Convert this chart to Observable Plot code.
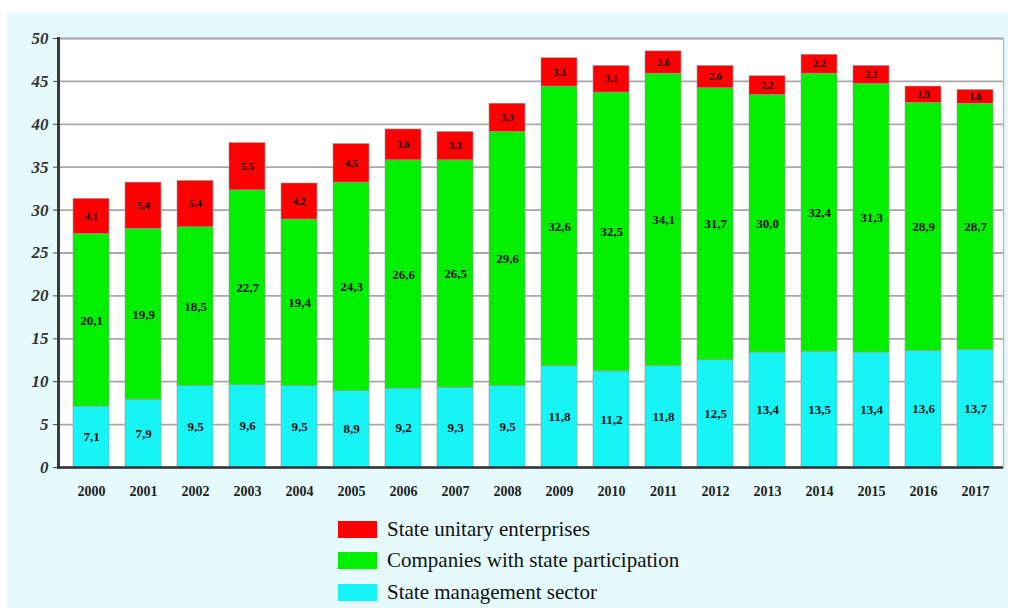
<!DOCTYPE html>
<html>
<head>
<meta charset="utf-8">
<script src="https://cdn.jsdelivr.net/npm/d3@7"></script>
<script src="https://cdn.jsdelivr.net/npm/@observablehq/plot@0.6"></script>
<style>
  html, body { margin: 0; padding: 0; background: #ffffff; }
  #wrap { position: absolute; left: 7px; top: 13px; width: 1001px; height: 595px; background: #e4fafc; }
  #chart svg { display: block; }
  .leg { position: absolute; left: 331px; height: 30px; display: flex; align-items: center;
         font-family: 'Liberation Serif', 'Times New Roman', Tinos, 'DejaVu Serif', serif; font-size: 21px; color: #111; }
  .sw { width: 39px; height: 17px; margin-right: 10px; }
</style>
</head>
<body>
<div id="wrap">
  <div id="chart"></div>
</div>
<script>
const years = ["2000","2001","2002","2003","2004","2005","2006","2007","2008","2009","2010","2011","2012","2013","2014","2015","2016","2017"];
const seriesNames = ["State management sector", "Companies with state participation", "State unitary enterprises"];
const legendOrder = ["State unitary enterprises", "Companies with state participation", "State management sector"];
const seriesColors = ["#16f4f6", "#00f000", "#ff0000"];
const management = [7.1, 7.9, 9.5, 9.6, 9.5, 8.9, 9.2, 9.3, 9.5, 11.8, 11.2, 11.8, 12.5, 13.4, 13.5, 13.4, 13.6, 13.7];
const companies = [20.1, 19.9, 18.5, 22.7, 19.4, 24.3, 26.6, 26.5, 29.6, 32.6, 32.5, 34.1, 31.7, 30.0, 32.4, 31.3, 28.9, 28.7];
const unitary = [4.1, 5.4, 5.4, 5.5, 4.2, 4.5, 3.6, 3.3, 3.3, 3.3, 3.1, 2.6, 2.6, 2.2, 2.2, 2.1, 1.9, 1.6];
const yTicks = [0, 5, 10, 15, 20, 25, 30, 35, 40, 45, 50];

const seriesValues = [management, companies, unitary];
const rows = years.flatMap((yr, i) => seriesNames.map((s, k) => ({year: yr, series: s, value: seriesValues[k][i]})));
const fmt = v => d3.format(".1f")(v).replace(".", ",");
const serif = "'Liberation Serif', 'Times New Roman', Tinos, 'DejaVu Serif', serif";

const chart = Plot.plot({
  width: 1001,
  height: 499,
  marginLeft: 51,
  marginRight: 5,
  marginTop: 25,
  marginBottom: 45,
  style: {background: "transparent", fontFamily: serif},
  x: {type: "band", domain: years, paddingInner: 0.3, paddingOuter: 0, range: [59.5, 993.5], label: null},
  y: {domain: [0, 50], ticks: yTicks, label: null},
  color: {domain: seriesNames, range: seriesColors},
  marks: [
    Plot.frame({fill: "white", stroke: "#bdbdbd", strokeWidth: 1.5}),
    Plot.gridY(yTicks, {stroke: "#a9a6ad", strokeOpacity: 1, strokeWidth: 1.8}),
    Plot.barY(rows, Plot.stackY({x: "year", y: "value", fill: "series", stroke: "#9a9a9a", strokeWidth: 0.6})),
    Plot.text(rows, Plot.stackY({x: "year", y: "value", z: "series",
      text: d => fmt(d.value), fill: "#111", fontWeight: "bold",
      fontSize: d => d.series === "State unitary enterprises" ? 10 : 13, fontFamily: serif})),
    Plot.frame({anchor: "left", stroke: "#3a3a3a", strokeWidth: 3}),
    Plot.ruleY([0], {stroke: "#333", strokeWidth: 2.5}),
    Plot.axisY({ticks: yTicks, tickSize: 5, tickPadding: 5, fontSize: 17, fontStyle: "italic",
      fontWeight: "bold", fill: "#333", stroke: "#444", fontFamily: serif}),
    Plot.axisX({tickSize: 0, tickPadding: 19, fontSize: 14, fontWeight: "bold", fill: "#222", fontFamily: serif})
  ]
});
document.getElementById("chart").appendChild(chart);

const wrap = document.getElementById("wrap");
const legTops = [501, 532, 564];
legendOrder.forEach((name, i) => {
  const row = document.createElement("div");
  row.className = "leg";
  row.style.top = legTops[i] + "px";
  const sw = document.createElement("div");
  sw.className = "sw";
  sw.style.background = seriesColors[seriesNames.indexOf(name)];
  const tx = document.createElement("span");
  tx.textContent = name;
  row.appendChild(sw);
  row.appendChild(tx);
  wrap.appendChild(row);
});
</script>
</body>
</html>
